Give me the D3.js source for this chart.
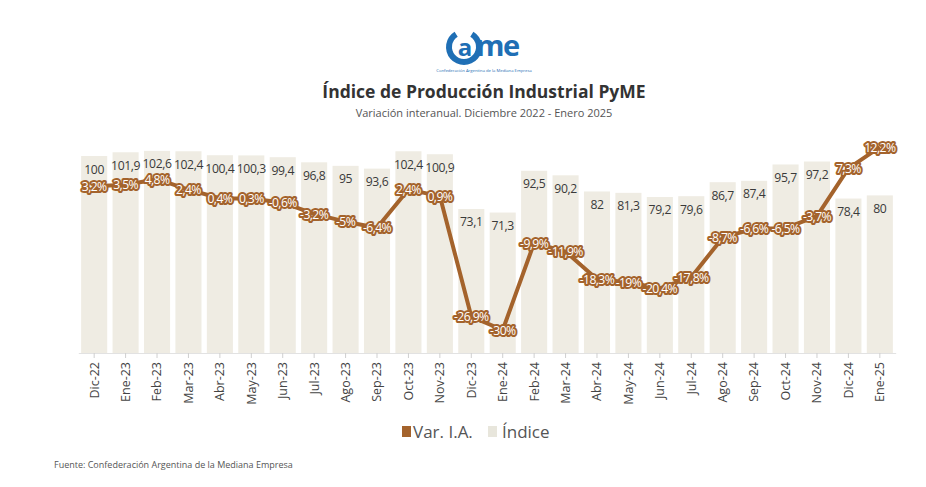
<!DOCTYPE html>
<html><head><meta charset="utf-8">
<script src="https://cdn.jsdelivr.net/npm/d3@7"></script>
<style>
html,body{margin:0;padding:0;background:#fff;}
svg{display:block;font-family:"Open Sans",sans-serif;}
</style></head>
<body><svg id="c" width="926" height="487"></svg>
<script>
const months = ["Dic-22","Ene-23","Feb-23","Mar-23","Abr-23","May-23","Jun-23","Jul-23","Ago-23","Sep-23","Oct-23","Nov-23","Dic-23","Ene-24","Feb-24","Mar-24","Abr-24","May-24","Jun-24","Jul-24","Ago-24","Sep-24","Oct-24","Nov-24","Dic-24","Ene-25"];
const indice = [100,101.9,102.6,102.4,100.4,100.3,99.4,96.8,95,93.6,102.4,100.9,73.1,71.3,92.5,90.2,82,81.3,79.2,79.6,86.7,87.4,95.7,97.2,78.4,80];
const varIA = [3.2,3.5,4.8,2.4,0.4,0.3,-0.6,-3.2,-5,-6.4,2.4,0.9,-26.9,-30,-9.9,-11.9,-18.3,-19,-20.4,-17.8,-8.7,-6.6,-6.5,-3.7,7.3,12.2];

const svg = d3.select("#c");
const fmt = v => String(v).replace(".", ",");
const brown = "#a4632c", barCol = "#efece3";

const x = d3.scaleBand().domain(months).range([78.3, 895.7]).paddingInner(0.17).paddingOuter(0.09);
const yBar = d3.scaleLinear().domain([0, 100]).range([353, 156]);
const yVar = d3.scaleLinear().domain([-30, 0]).range([330, 200]);
const cx = m => x(m) + x.bandwidth() / 2;

// logo
const logo = svg.append("g");
logo.append("path")
  .attr("d", d3.arc().innerRadius(12).outerRadius(18).startAngle(0.55).endAngle(2 * Math.PI - 0.55)())
  .attr("transform", "translate(464,47)").attr("fill", "#1f6fb5");
logo.append("text").attr("x", 465).attr("y", 55.5).attr("text-anchor", "middle")
  .attr("font-size", 24).attr("font-weight", 700).attr("fill", "#1f6fb5").text("a");
logo.append("text").attr("x", 476).attr("y", 56).attr("font-size", 29).attr("font-weight", 700)
  .attr("letter-spacing", -1.5).attr("fill", "#1f6fb5").text("me");
logo.append("text").attr("x", 484).attr("y", 72).attr("text-anchor", "middle").attr("font-size", 4.2)
  .attr("fill", "#1f6fb5").text("Confederación Argentina de la Mediana Empresa");

svg.append("text").attr("x", 484).attr("y", 98).attr("text-anchor", "middle")
  .attr("font-size", 17.5).attr("font-weight", 700).attr("fill", "#333").text("Índice de Producción Industrial PyME");
svg.append("text").attr("x", 484).attr("y", 117).attr("text-anchor", "middle")
  .attr("font-size", 11).attr("fill", "#555").text("Variación interanual. Diciembre 2022 - Enero 2025");

// bars
svg.append("g").selectAll("rect").data(months).join("rect")
  .attr("x", d => x(d)).attr("width", x.bandwidth())
  .attr("y", (d, i) => yBar(indice[i])).attr("height", (d, i) => yBar(0) - yBar(indice[i]))
  .attr("fill", barCol);

// axis
const ax = svg.append("g").attr("transform", "translate(0,353)")
  .call(d3.axisBottom(x).tickSize(5).tickSizeOuter(0));
ax.select(".domain").attr("stroke", "#e2e2e2");
ax.selectAll(".tick line").attr("stroke", "#cfcfcf");
ax.selectAll(".tick text").attr("transform", "rotate(-90)").attr("text-anchor", "end")
  .attr("x", -9).attr("y", 0).attr("dy", "0.35em").attr("font-size", 12.5)
  .attr("font-family", "Open Sans").attr("fill", "#444");

// bar labels
svg.append("g").selectAll("text").data(months).join("text")
  .attr("x", d => cx(d)).attr("y", (d, i) => yBar(indice[i]) + 17.5)
  .attr("text-anchor", "middle").attr("font-size", 12.2).attr("fill", "#3a3a3a")
  .attr("letter-spacing", -0.4)
  .text((d, i) => fmt(indice[i]));

// line
const line = d3.line().x(d => cx(d)).y((d, i) => yVar(varIA[i]));
svg.append("path").datum(months).attr("d", line).attr("fill", "none")
  .attr("stroke", brown).attr("stroke-width", 4).attr("stroke-linejoin", "round");

// line labels
svg.append("g").selectAll("text").data(months).join("text")
  .attr("x", d => cx(d)).attr("y", (d, i) => yVar(varIA[i])).attr("dy", "0.38em")
  .attr("text-anchor", "middle").attr("font-size", 12.2)
  .attr("fill", "#fff").attr("stroke", brown).attr("stroke-width", 4)
  .attr("stroke-linejoin", "round").attr("paint-order", "stroke")
  .attr("letter-spacing", -0.6)
  .text((d, i) => fmt(varIA[i]) + "%");

// legend
const lg = svg.append("g");
lg.append("rect").attr("x", 402).attr("y", 426).attr("width", 9).attr("height", 11).attr("fill", brown);
lg.append("text").attr("x", 413).attr("y", 438).attr("font-size", 17).attr("fill", "#555").text("Var. I.A.");
lg.append("rect").attr("x", 488).attr("y", 426).attr("width", 9).attr("height", 11).attr("fill", "#e8e6dc");
lg.append("text").attr("x", 502).attr("y", 438).attr("font-size", 17).attr("fill", "#555").text("Índice");

svg.append("text").attr("x", 54).attr("y", 468).attr("font-size", 9).attr("fill", "#555")
  .text("Fuente: Confederación Argentina de la Mediana Empresa");
</script></body></html>
